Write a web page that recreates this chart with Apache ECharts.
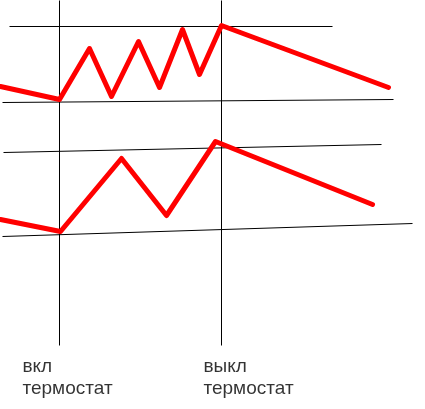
<!DOCTYPE html>
<html>
<head>
<meta charset="utf-8">
<script src="https://cdn.jsdelivr.net/npm/echarts@6/dist/echarts.min.js"></script>
<style>
  html, body { margin: 0; padding: 0; background: #fff; }
  #chart-container { width: 425px; height: 409px; }
</style>
</head>
<body>
<div id="chart-container"></div>
<script>
// sketch units: x to the right, y downwards
var upperCurve = [[0, 86], [59, 99], [89, 48], [111, 96], [138, 41], [159, 87], [182, 29], [199, 74], [221, 25], [388, 87]];
var lowerCurve = [[0, 219], [60, 231], [121, 158], [166, 215], [215, 141], [372, 204]];

var guideLines = [
  [[9, 26], [332, 26]],
  [[2, 102], [393, 99]],
  [[3, 152], [381, 144]],
  [[2, 236], [412, 223]],
  [[59, 0], [59, 345]],
  [[221, 0], [221, 345]]
];

var captionText = ["вкл\nтермостат", "выкл\nтермостат"];
var captionAt = [[22, 355], [203, 355]];

var dom = document.getElementById("chart-container");
var myChart = echarts.init(dom, null, { renderer: "canvas" });

var series = [];
guideLines.forEach(function (seg) {
  series.push({
    type: "line",
    data: seg,
    symbol: "none",
    silent: true,
    lineStyle: { color: "#000", width: 1 },
  });
});
[upperCurve, lowerCurve].forEach(function (curve) {
  series.push({
    type: "line",
    data: curve,
    symbol: "none",
    lineStyle: { color: "#ff0000", width: 5, join: "round", cap: "round" },
  });
});
series.push({
  type: "scatter",
  symbolSize: 0,
  data: captionAt.map(function (p, i) {
    return { value: p, name: captionText[i] };
  }),
  label: {
    show: true,
    position: [0, 0],
    align: "left",
    verticalAlign: "top",
    formatter: function (p) { return p.name; },
    fontFamily: "Liberation Sans, Arial, sans-serif",
    fontSize: 19,
    lineHeight: 22,
    color: "#000",
  },
});

// half-pixel shift keeps the thin 1px guides crisp
var option = {
  animation: false,
  backgroundColor: "#fff",
  grid: { left: 0, right: 0, top: 0, bottom: 0 },
  xAxis: { type: "value", min: -0.5, max: 424.5, show: false },
  yAxis: { type: "value", min: -0.5, max: 408.5, inverse: true, show: false },
  series: series,
};

myChart.setOption(option);
window.addEventListener("resize", myChart.resize);
</script>
</body>
</html>
